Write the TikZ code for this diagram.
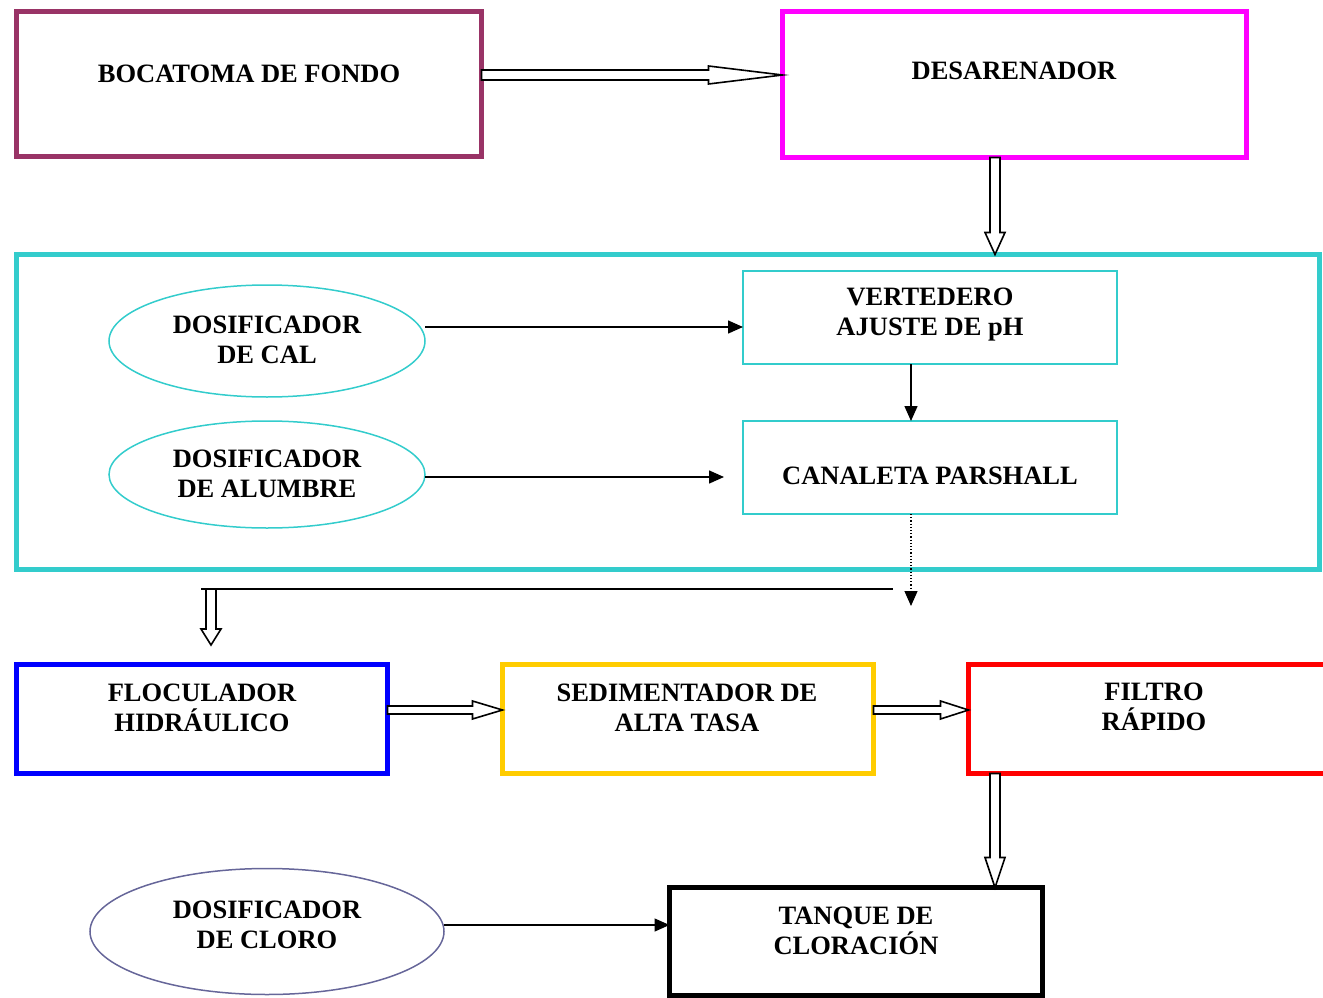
\documentclass[tikz,border=0pt]{standalone}
\usepackage{fontspec}
\setmainfont{Liberation Serif}
\usetikzlibrary{arrows.meta,calc,shapes.geometric}

\definecolor{plum}{HTML}{993366}
\definecolor{magentabox}{HTML}{FF00FF}
\definecolor{turq}{HTML}{33CCCC}
\definecolor{bluebox}{HTML}{0000FF}
\definecolor{goldbox}{HTML}{FFCC00}
\definecolor{redbox}{HTML}{FF0000}
\definecolor{slate}{HTML}{666699}

% horizontal hollow block arrow: start, tip, half shaft, half head, head length
\newcommand\hollowright[5]{%
  \draw[hollow] let \p1=(#1), \p2=(#2) in
    (\x1,\y1+#3) -- (\x2-#5,\y1+#3) -- (\x2-#5,\y1+#4) -- (\x2,\y1)
    -- (\x2-#5,\y1-#4) -- (\x2-#5,\y1-#3) -- (\x1,\y1-#3) -- cycle;}
% downward hollow block arrow: start, tip, half shaft, half head, head length
\newcommand\hollowdown[5]{%
  \draw[hollow] let \p1=(#1), \p2=(#2) in
    (\x1-#3,\y1) -- (\x1-#3,\y2+#5) -- (\x1-#4,\y2+#5) -- (\x1,\y2)
    -- (\x1+#4,\y2+#5) -- (\x1+#3,\y2+#5) -- (\x1+#3,\y1) -- cycle;}

\begin{document}
\begin{tikzpicture}[x=1pt,y=-1pt,
  box/.style={draw=#1,line width=5pt,rectangle,inner sep=0pt,outer sep=0pt},
  thinbox/.style={draw=#1,line width=1.5pt,rectangle,inner sep=0pt,outer sep=0pt},
  oval/.style={draw=#1,line width=1.5pt,ellipse,inner sep=0pt,outer sep=0pt},
  lbl/.style={font=\fontsize{26.5}{30}\selectfont\bfseries,align=center,inner sep=0pt},
  hollow/.style={draw=black,fill=white,line width=1.6pt,line join=miter},
  feed/.style={draw=black,line width=1.5pt,-{Triangle[length=15pt,width=13pt]}},
]
\useasboundingbox (0,0) rectangle (1323,998);
\clip (0,0) rectangle (1323,998);

% ---- top row
\node[box=plum,minimum width=465pt,minimum height=145pt] (boc) at (249,84) {};
\node[lbl] (boct) at (249,74) {BOCATOMA DE FONDO};
\node[box=magentabox,minimum width=464pt,minimum height=146pt] (des) at (1014.5,84.5) {};
\node[lbl] (dest) at (1014,71) {DESARENADOR};

% ---- dosing and mixing block
\node[box=turq,minimum width=1303pt,minimum height=315pt] (mix) at (668,412) {};
\node[oval=turq,minimum width=316pt,minimum height=112pt] (cal) at (267,341) {};
\node[lbl] (calt) at (267,340) {DOSIFICADOR\\DE CAL};
\node[oval=turq,minimum width=316pt,minimum height=107pt] (alu) at (267,474.5) {};
\node[lbl] (alut) at (267,474) {DOSIFICADOR\\DE ALUMBRE};
\node[thinbox=turq,minimum width=374pt,minimum height=93pt] (ver) at (930,317.5) {};
\node[lbl] (vert) at (930,315) {VERTEDERO\\AJUSTE DE pH};
\node[thinbox=turq,minimum width=374pt,minimum height=93pt] (can) at (930,467.5) {};
\node[lbl] (cant) at (930,476) {CANALETA PARSHALL};

% ---- treatment row
\node[box=bluebox,minimum width=371pt,minimum height=109pt] (flo) at (202,719) {};
\node[lbl] (flot) at (202,708) {FLOCULADOR\\HIDRÁULICO};
\node[box=goldbox,minimum width=371pt,minimum height=109pt] (sed) at (688,719) {};
\node[lbl] (sedt) at (687,708) {SEDIMENTADOR DE\\ALTA TASA};
\node[box=redbox,minimum width=376.5pt,minimum height=109pt] (fil) at (1156.75,719) {};
\node[lbl] (filt) at (1154,707) {FILTRO\\RÁPIDO};

% ---- disinfection
\node[box=black,minimum width=373pt,minimum height=108pt] (tan) at (856,941.5) {};
\node[lbl] (tant) at (856,931) {TANQUE DE\\CLORACIÓN};
\node[oval=slate,minimum width=354pt,minimum height=126pt] (clo) at (267,931.5) {};
\node[lbl] (clot) at (267,925) {DOSIFICADOR\\DE CLORO};

% ---- connectors
\hollowright{$(boc.east)+(0,-9)$}{$(des.west)+(0,-11)$}{5pt}{9pt}{74pt}
\hollowdown{des.south -| 995,0}{mix.north -| 995,0}{5pt}{10pt}{22pt}

\draw[feed] (cal.east |- 0,327) -- (ver.west |- 0,327);
\coordinate (aluend) at (724,477);
\draw[feed] (alu.east |- 0,477) -- (aluend);
\draw[feed] (ver.south -| 911,0) -- (can.north -| 911,0);

\coordinate (drop) at (911,606);
\draw[line width=1.2pt,dotted,-{Triangle[length=15pt,width=13pt]}] (can.south -| 911,0) -- (drop);
\coordinate (railL) at (201,589);
\coordinate (railR) at (893,589);
\draw[line width=1.5pt] (railL) -- (railR);
\coordinate (raildrop) at (211,589);
\coordinate (railtip) at (211,645);
\hollowdown{raildrop}{railtip}{5pt}{10pt}{16pt}

\hollowright{$(flo.east)+(0,-9)$}{$(sed.west)+(0,-9)$}{4pt}{9pt}{30pt}
\hollowright{$(sed.east)+(0,-9)$}{$(fil.west)+(0,-9)$}{4pt}{9pt}{28pt}
\hollowdown{fil.south -| 995,0}{tan.north -| 995,0}{5pt}{10pt}{30pt}

\draw[feed] (clo.east |- 0,925) -- (tan.west |- 0,925);
\end{tikzpicture}
\end{document}
